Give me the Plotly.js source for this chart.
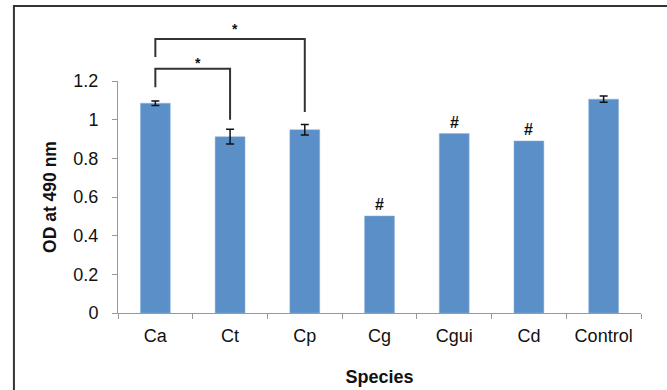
<!DOCTYPE html>
<html><head><meta charset="utf-8">
<script src="https://cdn.plot.ly/plotly-3.0.1.min.js"></script>
<style>html,body{margin:0;padding:0;background:#fff}#chart{width:667px;height:390px}</style>
</head><body><div id="chart"></div>
<script>
// Data
const species = ["Ca", "Ct", "Cp", "Cg", "Cgui", "Cd", "Control"];
const od490 = [1.085, 0.912, 0.948, 0.502, 0.928, 0.890, 1.106];
const odError = [0.012, 0.038, 0.027, NaN, NaN, NaN, 0.016];
const hashMarked = ["Cg", "Cgui", "Cd"];
const yTicks = [0, 0.2, 0.4, 0.6, 0.8, 1, 1.2];
const yTickText = ["0", "0.2", "0.4", "0.6", "0.8", "1", "1.2"];
// significance brackets
const brackets = [
  {from: "Ca", to: "Ct", top: 1.263, leftEnd: 1.168, rightEnd: 1.0, label: "*", labelShift: 6},
  {from: "Ca", to: "Cp", top: 1.417, leftEnd: 1.324, rightEnd: 1.04, label: "*", labelShift: 10}
];

const yMax = 1.2;
const n = species.length;
const px = c => (species.indexOf(c) + 0.5) / n;
const py = v => v / yMax;
const FONT = "Liberation Sans, Arial, Helvetica, sans-serif";

const shapes = [];
const annotations = [];
brackets.forEach(b => {
  const x0 = px(b.from), x1 = px(b.to);
  shapes.push({type: "path", xref: "paper", yref: "paper",
    path: `M ${x0} ${py(b.leftEnd)} L ${x0} ${py(b.top)} L ${x1} ${py(b.top)} L ${x1} ${py(b.rightEnd)}`,
    line: {color: "#333", width: 2}});
  annotations.push({xref: "paper", yref: "paper", x: (x0 + x1) / 2, y: py(b.top),
    text: "<b>" + b.label + "</b>", showarrow: false, yanchor: "middle", yshift: b.labelShift,
    font: {family: FONT, size: 14, color: "#111"}});
});
hashMarked.forEach(c => {
  const i = species.indexOf(c);
  annotations.push({xref: "x", yref: "y", x: c, y: od490[i],
    text: "<b>#</b>", showarrow: false, yanchor: "bottom", yshift: 1,
    font: {family: FONT, size: 16, color: "#111"}});
});
// outer frame
shapes.push({type: "rect", xref: "paper", yref: "paper", x0: -0.199, x1: 1.1, y0: -0.5, y1: 1.323,
  line: {color: "#333", width: 2}, fillcolor: "rgba(0,0,0,0)"});

const trace = {
  type: "bar", x: species, y: od490,
  marker: {color: "#5b8fc8", line: {color: "#8fb3dc", width: 0.5}},
  error_y: {type: "data", array: odError, visible: true, color: "#111", thickness: 1.5, width: 4},
  hoverinfo: "none"
};

const layout = {
  width: 667, height: 390,
  margin: {l: 118, r: 26, t: 81, b: 77},
  paper_bgcolor: "#fff", plot_bgcolor: "#fff",
  showlegend: false,
  bargap: 0.6,
  font: {family: FONT, size: 18, color: "#111"},
  xaxis: {
    type: "category", range: [-0.5, n - 0.5], fixedrange: true,
    showline: true, linecolor: "#999", linewidth: 1,
    ticks: "outside", tickson: "boundaries", ticklen: 5, tickcolor: "#999",
    ticklabelstandoff: 6,
    tickfont: {size: 18, color: "#111"},
    title: {text: "<b>Species</b>", font: {size: 18, color: "#111"}, standoff: 25}
  },
  yaxis: {
    range: [0, yMax], fixedrange: true,
    tickvals: yTicks, ticktext: yTickText,
    showline: true, linecolor: "#999", linewidth: 1,
    ticks: "outside", ticklen: 5, tickcolor: "#999",
    showgrid: false, zeroline: false,
    ticklabelstandoff: 10,
    tickfont: {size: 18, color: "#111"},
    title: {text: "<b>OD at 490 nm</b>", font: {size: 17.5, color: "#111"}, standoff: 12}
  },
  shapes: shapes,
  annotations: annotations
};

Plotly.newPlot("chart", [trace], layout, {staticPlot: true, displayModeBar: false});
</script>
</body></html>
